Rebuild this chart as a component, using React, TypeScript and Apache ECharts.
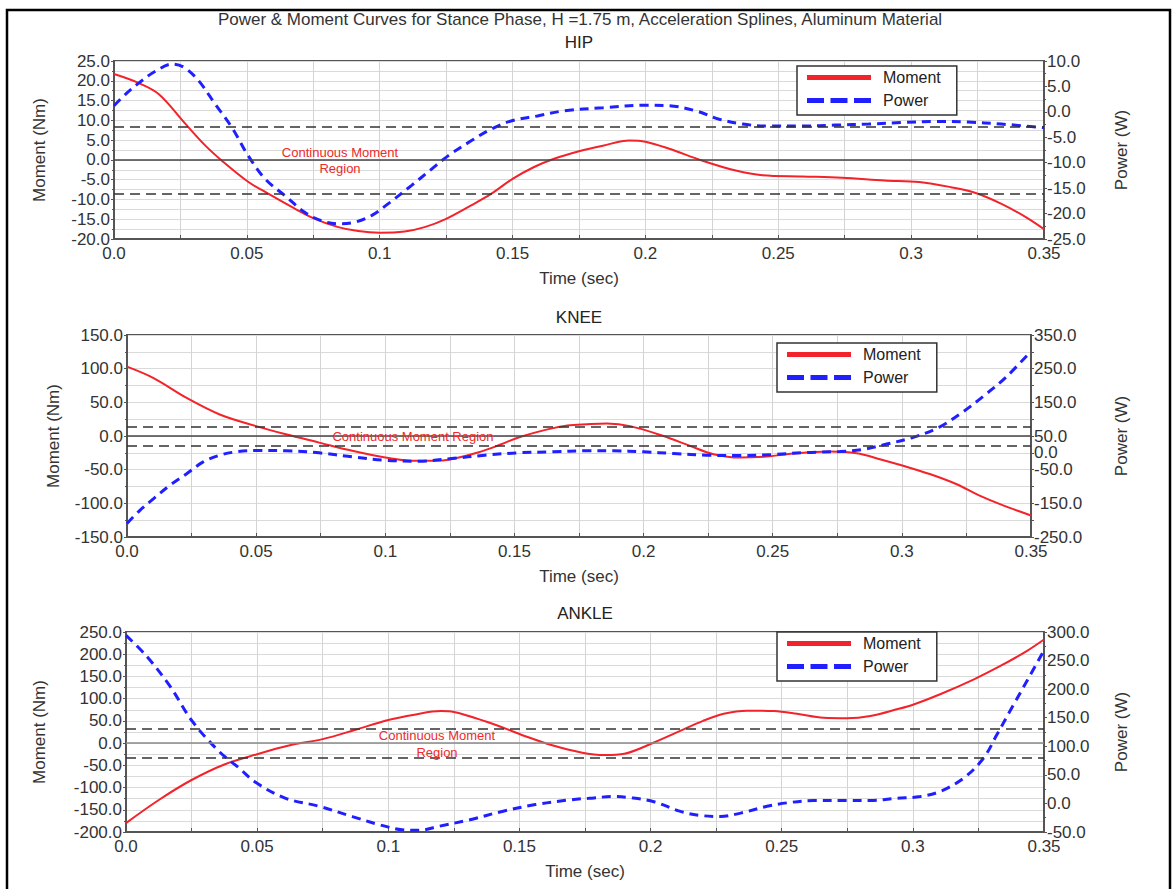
import React, { useEffect, useRef } from "react";
import * as echarts from "echarts";

const FONT = '"Liberation Sans", Arial, Helvetica, sans-serif';

// ---------- DATA ----------
const mainTitle =
  "Power & Moment Curves for Stance Phase, H =1.75 m, Acceleration Splines, Aluminum Material";
const panelTitles = ["HIP", "KNEE", "ANKLE"];
const seriesNames = ["Moment", "Power"];
const regionText = ["Continuous Moment", "Region"];

// HIP
const hipMomentT = [0, 0.0094, 0.0169, 0.0269, 0.0344, 0.0406, 0.0506, 0.0569, 0.0669, 0.0756, 0.0844, 0.0919, 0.1, 0.1094, 0.1169, 0.125, 0.1344, 0.1419, 0.15, 0.1581, 0.1656, 0.175, 0.184, 0.194, 0.2, 0.209, 0.2215, 0.234, 0.244, 0.259, 0.274, 0.29, 0.303, 0.315, 0.324, 0.334, 0.343, 0.35];
const hipMomentV = [21.7, 19.4, 16.6, 9.1, 3.6, -0.2, -5.6, -8.1, -11.9, -14.9, -17.0, -18.0, -18.4, -18.1, -17.0, -14.9, -11.5, -8.6, -4.8, -1.8, 0.3, 2.2, 3.6, 4.9, 4.6, 2.8, -0.2, -2.7, -3.9, -4.2, -4.5, -5.2, -5.6, -6.9, -8.3, -11.1, -14.4, -17.5];
const hipPowerT = [0, 0.0044, 0.0094, 0.0156, 0.022, 0.0265, 0.0319, 0.0381, 0.0444, 0.0506, 0.0569, 0.0644, 0.0719, 0.0781, 0.0844, 0.0906, 0.0969, 0.1031, 0.1119, 0.1194, 0.1256, 0.1344, 0.1419, 0.1494, 0.1594, 0.1694, 0.184, 0.2, 0.209, 0.219, 0.2278, 0.2365, 0.2465, 0.259, 0.2715, 0.284, 0.2965, 0.309, 0.3215, 0.334, 0.35];
const hipPowerV = [1.2, 3.5, 5.7, 8.0, 9.4, 8.7, 6.1, 1.5, -3.1, -8.7, -13.2, -16.5, -19.8, -21.4, -22.0, -21.7, -20.4, -18.1, -14.5, -11.3, -8.7, -5.7, -3.4, -1.8, -0.8, 0.2, 0.8, 1.3, 1.2, 0.2, -1.45, -2.4, -2.8, -2.8, -2.6, -2.4, -2.1, -1.9, -2.0, -2.4, -3.1];
const hipRegion = [8.5, -8.5];

// KNEE
const kneeMomentT = [0, 0.0103, 0.0231, 0.0359, 0.05, 0.0615, 0.0744, 0.0872, 0.1, 0.1103, 0.1192, 0.1256, 0.1359, 0.1449, 0.1513, 0.1628, 0.1705, 0.1782, 0.1858, 0.1948, 0.2077, 0.218, 0.2271, 0.2374, 0.2477, 0.2593, 0.2722, 0.2825, 0.2915, 0.3005, 0.3108, 0.321, 0.3301, 0.3392, 0.35];
const kneeMomentV = [103, 86, 56.5, 32, 14.7, 2.5, -9.8, -22, -32, -36.9, -36.9, -34.4, -24.6, -12.3, -2.5, 9.8, 15.7, 17.5, 18.5, 14.7, 0, -14.7, -27, -32, -30.5, -25.6, -23.1, -25.6, -34.4, -44.2, -56.5, -71.3, -88.5, -103, -118];
const kneePowerT = [0, 0.0051, 0.0103, 0.0167, 0.0231, 0.0295, 0.0359, 0.0423, 0.05, 0.0615, 0.0744, 0.0872, 0.1, 0.1128, 0.1256, 0.1385, 0.1513, 0.1641, 0.1782, 0.1884, 0.2, 0.2116, 0.2245, 0.2374, 0.2503, 0.2631, 0.276, 0.285, 0.2941, 0.3044, 0.3147, 0.3237, 0.3314, 0.3405, 0.35];
const kneePowerV = [-210, -170, -136, -96, -62, -27, -7, 3, 7, 6, 0, -12, -22, -25, -17, -7, 0, 3, 6, 6, 3, -2, -7, -8, -5, 1, 4, 10, 26, 46, 77, 122, 167, 226, 302];
const kneeRegion = [14, -14];
const kneePowerLabels = [350, 250, 150, 50, 0, -50, -150, -250];

// ANKLE
const ankleMomentT = [0, 0.0125, 0.025, 0.0375, 0.05, 0.0625, 0.075, 0.0875, 0.1, 0.11, 0.12, 0.125, 0.1375, 0.145, 0.1525, 0.1625, 0.1735, 0.1825, 0.19, 0.2, 0.21, 0.22, 0.2279, 0.2368, 0.247, 0.2558, 0.266, 0.2749, 0.2838, 0.2939, 0.3003, 0.3104, 0.3231, 0.3332, 0.3434, 0.35];
const ankleMomentV = [-180, -128, -83, -48, -25, -5, 9, 30, 52, 64, 72, 70, 48, 32, 15, -5, -21, -27, -24, -2, 24, 50, 66, 73, 72, 66, 57, 56, 61, 76, 87, 110, 143, 173, 207, 233];
const anklePowerT = [0, 0.0076, 0.0165, 0.0254, 0.0355, 0.0431, 0.0497, 0.0609, 0.0736, 0.0863, 0.0964, 0.1053, 0.1117, 0.1193, 0.1307, 0.1434, 0.1561, 0.1688, 0.1764, 0.186, 0.1924, 0.2013, 0.2114, 0.219, 0.2266, 0.2343, 0.2444, 0.252, 0.2622, 0.2749, 0.2838, 0.2939, 0.3028, 0.3104, 0.3193, 0.3269, 0.332, 0.3383, 0.3447, 0.35];
const anklePowerV = [294, 259, 207, 143, 91, 62, 36, 9, -5, -23, -37, -46, -47, -40, -29, -14, -2, 6, 9, 12, 10, 3, -14, -21, -23, -17, -5, 1, 5, 5, 5, 9, 12, 21, 44, 79, 120, 172, 224, 268];
const ankleRegion = [33, -33];

// axis ranges
const timeMin = 0;
const timeMax = 0.35;
const timeStep = 0.05;
const momentAxes = [
  { min: -20, max: 25, interval: 5 },
  { min: -150, max: 150, interval: 50 },
  { min: -200, max: 250, interval: 50 },
];
const powerAxes = [
  { min: -25, max: 10, interval: 5 },
  { min: -250, max: 350, interval: 50 },
  { min: -50, max: 300, interval: 50 },
];

// ---------- LAYOUT ----------
const grids = [
  { left: 114, top: 61, width: 930, height: 178 },
  { left: 127, top: 335, width: 904, height: 202 },
  { left: 126, top: 632, width: 918, height: 200 },
];
const leftNameGap = [66, 65, 78];
const rightNameGap = [69, 82, 69];
const titleTops = [34, 309, 605];
const legendPos = [
  { left: 797, top: 66 },
  { left: 777, top: 343 },
  { left: 777, top: 632 },
];
const zeroLineColors = ["#444", "#444", "#8a8a8a"];

const RED = "#f2232a";
const BLUE = "#1f1fff";

const zip = (t: number[], v: number[]) => t.map((x, i) => [x, v[i]]);

const App: React.FC = () => {
  const ref = useRef<HTMLDivElement>(null);

  useEffect(() => {
    if (!ref.current) return;
    const chart = echarts.init(ref.current, null, { renderer: "svg" });

    const momentData = [
      zip(hipMomentT, hipMomentV),
      zip(kneeMomentT, kneeMomentV),
      zip(ankleMomentT, ankleMomentV),
    ];
    const powerData = [
      zip(hipPowerT, hipPowerV),
      zip(kneePowerT, kneePowerV),
      zip(anklePowerT, anklePowerV),
    ];
    const regions = [hipRegion, kneeRegion, ankleRegion];

    const fmtTime = (v: number) => (v === 0 ? "0.0" : String(+v.toFixed(3)));
    const fmt1 = (v: number) => (+v).toFixed(1);

    const xAxis: any[] = [];
    const yAxis: any[] = [];
    const series: any[] = [];
    const legend: any[] = [];

    for (let i = 0; i < 3; i++) {
      xAxis.push({
        type: "value",
        gridIndex: i,
        min: timeMin,
        max: timeMax,
        interval: timeStep,
        name: "Time (sec)",
        nameLocation: "middle",
        nameGap: 31,
        nameTextStyle: { fontSize: 17, color: "#333", fontFamily: FONT },
        axisLine: { show: true, onZero: false, lineStyle: { color: "#555", width: 2 } },
        axisTick: { show: true, inside: true, length: 4, lineStyle: { color: "#555" } },
        minorTick: { show: true, splitNumber: 2, length: 4, lineStyle: { color: "#555" } },
        axisLabel: { fontSize: 17, color: "#333", margin: 6, fontFamily: FONT, formatter: fmtTime },
        splitLine: { show: true, lineStyle: { color: "#d4d4d4", width: 1 } },
        minorSplitLine: { show: true, lineStyle: { color: "#d4d4d4", width: 1 } },
      });
      yAxis.push({
        type: "value",
        gridIndex: i,
        position: "left",
        min: momentAxes[i].min,
        max: momentAxes[i].max,
        interval: momentAxes[i].interval,
        name: "Moment (Nm)",
        nameLocation: "middle",
        nameGap: leftNameGap[i],
        nameTextStyle: { fontSize: 17, color: "#333", fontFamily: FONT },
        axisLine: { show: true, onZero: false, lineStyle: { color: "#555", width: 2 } },
        axisTick: { show: true, length: 3, lineStyle: { color: "#555" } },
        minorTick: { show: true, splitNumber: 2, length: 2, lineStyle: { color: "#555" } },
        axisLabel: { fontSize: 17, color: "#333", margin: 4, fontFamily: FONT, formatter: fmt1 },
        splitLine: { show: true, lineStyle: { color: "#dadada", width: 1 } },
        minorSplitLine: { show: true, lineStyle: { color: "#dadada", width: 1 } },
      });
      yAxis.push({
        type: "value",
        gridIndex: i,
        position: "right",
        min: powerAxes[i].min,
        max: powerAxes[i].max,
        interval: powerAxes[i].interval,
        name: "Power (W)",
        nameLocation: "middle",
        nameGap: rightNameGap[i],
        nameTextStyle: { fontSize: 17, color: "#333", fontFamily: FONT },
        axisLine: { show: true, onZero: false, lineStyle: { color: "#555", width: 2 } },
        axisTick: { show: true, length: 3, lineStyle: { color: "#555" } },
        minorTick: { show: i !== 1, splitNumber: 2, length: 2, lineStyle: { color: "#555" } },
        axisLabel: {
          fontSize: 17,
          color: "#333",
          margin: 3,
          fontFamily: FONT,
          formatter: (v: number) =>
            i === 1 ? (kneePowerLabels.indexOf(Math.round(v)) >= 0 ? fmt1(v) : "") : fmt1(v),
        },
        splitLine: { show: false },
      });

      series.push({
        name: seriesNames[0],
        type: "line",
        xAxisIndex: i,
        yAxisIndex: i * 2,
        data: momentData[i],
        smooth: 0.35,
        symbol: "none",
        lineStyle: { color: RED, width: 2 },
        itemStyle: { color: RED },
        z: 3,
        markLine: {
          silent: true,
          symbol: "none",
          label: { show: false },
          animation: false,
          data: [
            { yAxis: 0, lineStyle: { type: "solid", color: zeroLineColors[i], width: 1.5 } },
            { yAxis: regions[i][0], lineStyle: { type: [10, 6], color: "#333", width: 1.5 } },
            { yAxis: regions[i][1], lineStyle: { type: [10, 6], color: "#333", width: 1.5 } },
          ],
        },
      });
      series.push({
        name: seriesNames[1],
        type: "line",
        xAxisIndex: i,
        yAxisIndex: i * 2 + 1,
        data: powerData[i],
        smooth: 0.35,
        symbol: "none",
        lineStyle: { color: BLUE, width: 3, type: [9, 6] },
        itemStyle: { color: BLUE },
        z: 4,
      });

      legend.push({
        orient: "vertical",
        left: legendPos[i].left,
        top: legendPos[i].top,
        backgroundColor: "#fff",
        borderColor: "#333",
        borderWidth: 1.5,
        borderRadius: 0,
        padding: [0, 16, 3, 10],
        itemWidth: 64,
        itemHeight: 5,
        itemGap: 0,
        selectedMode: false,
        textStyle: { fontSize: 16, color: "#222", fontFamily: FONT, lineHeight: 17, padding: [0, 0, 6, 7] },
        data: [
          { name: seriesNames[0], icon: "path://M0,0h64v5h-64z", itemStyle: { color: RED } },
          {
            name: seriesNames[1],
            icon: "path://M0,0h17v5h-17z M23.5,0h17v5h-17z M47,0h17v5h-17z",
            itemStyle: { color: BLUE },
          },
        ],
      });
    }

    const titles: any[] = [
      {
        text: mainTitle,
        left: 580,
        textAlign: "center",
        top: 11,
        padding: 0,
        textStyle: { fontSize: 17, fontWeight: "normal", color: "#333", fontFamily: FONT },
      },
    ];
    for (let i = 0; i < 3; i++) {
      titles.push({
        text: panelTitles[i],
        left: grids[i].left + grids[i].width / 2,
        textAlign: "center",
        top: titleTops[i],
        padding: 0,
        textStyle: { fontSize: 17, fontWeight: "normal", color: "#222", fontFamily: FONT },
      });
    }

    const annoStyle = (text: string) => ({
      text,
      fill: "#ee2a2a",
      fontSize: 13,
      fontFamily: FONT,
      align: "center",
      verticalAlign: "middle",
    });

    const option: any = {
      animation: false,
      backgroundColor: "#ffffff",
      title: titles,
      legend,
      grid: grids.map((g) => ({
        ...g,
        show: true,
        borderColor: "#555",
        borderWidth: 2,
        backgroundColor: "#fff",
        containLabel: false,
      })),
      xAxis,
      yAxis,
      series,
      graphic: [
        {
          type: "rect",
          shape: { x: 7, y: 10, width: 1163, height: 900 },
          style: { fill: "none", stroke: "#000", lineWidth: 2.5 },
          silent: true,
          z: 100,
        },
        { type: "text", x: 340, y: 152, style: annoStyle(regionText[0]), z: 50 },
        { type: "text", x: 340, y: 168, style: annoStyle(regionText[1]), z: 50 },
        { type: "text", x: 413, y: 436, style: annoStyle(regionText.join(" ")), z: 50 },
        { type: "text", x: 437, y: 735, style: annoStyle(regionText[0]), z: 50 },
        { type: "text", x: 437, y: 752, style: annoStyle(regionText[1]), z: 50 },
      ],
    };

    chart.setOption(option);
    return () => chart.dispose();
  }, []);

  return (
    <div
      ref={ref}
      style={{ position: "absolute", left: 0, top: 0, width: 1173, height: 889, background: "#fff" }}
    />
  );
};

export default App;
